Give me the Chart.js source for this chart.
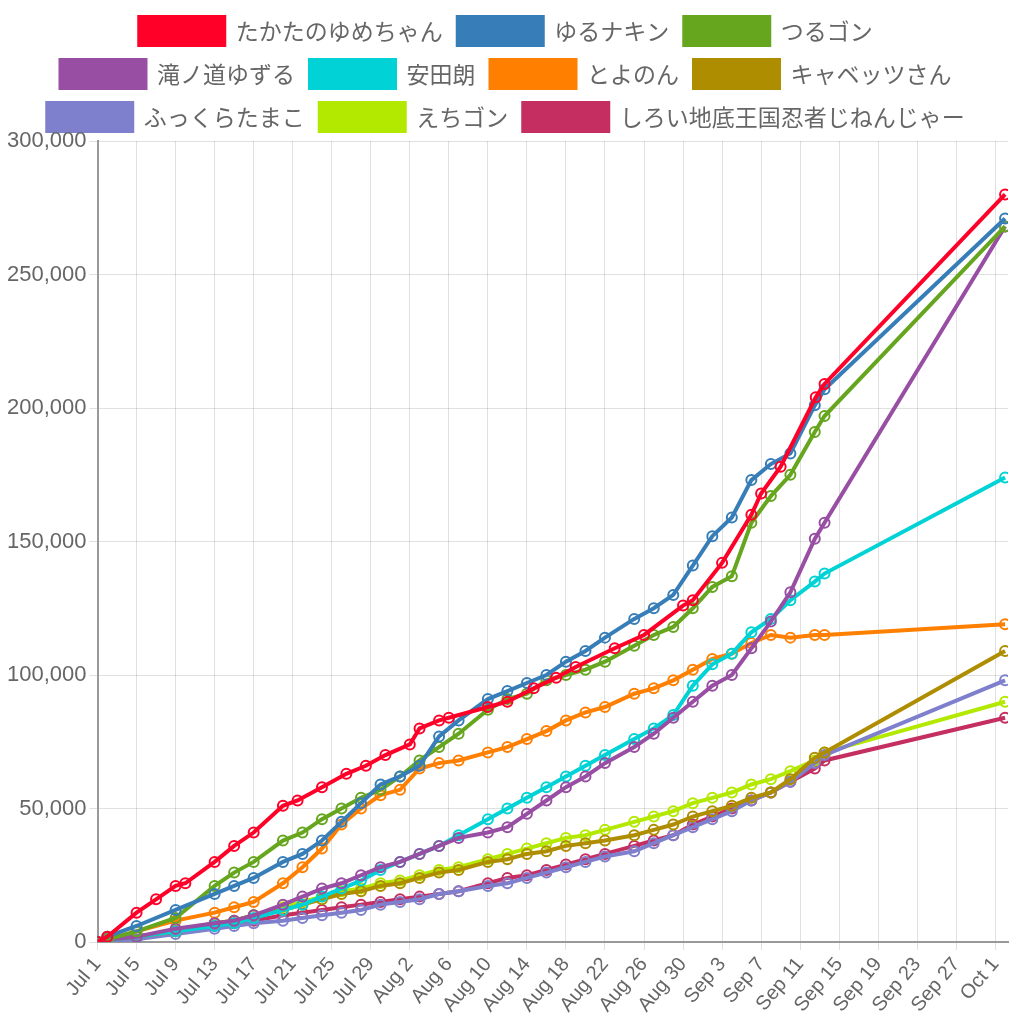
<!DOCTYPE html>
<html>
<head>
<meta charset="utf-8">
<script src="https://cdn.jsdelivr.net/npm/chart.js@4/dist/chart.umd.min.js"></script>
<style>
  html, body { margin: 0; padding: 0; background: #fff; }
  #wrap { width: 1024px; height: 1024px; }
</style>
</head>
<body>
<div id="wrap"><canvas id="c" width="1024" height="1024"></canvas></div>
<script>
// 日数 (Jul 1 = 0)
const redDays  = [0, 1, 4, 6, 8, 9, 12, 14, 16, 19, 20.5, 23, 25.5, 27.5, 29.5, 32, 33, 35, 36, 40, 42, 44.7, 47, 49, 53, 56, 60, 61, 64, 67, 68, 70, 73.6, 74.5, 93];
const redVals  = [0, 2, 11, 16, 21, 22, 30, 36, 41, 51, 53, 58, 63, 66, 70, 74, 80, 83, 84, 88, 90, 95, 99, 103, 110, 115, 126, 128, 142, 160, 168, 178, 204, 209, 280];

const commonDays = [0, 1, 4, 8, 12, 14, 16, 19, 21, 23, 25, 27, 29, 31, 33, 35, 37, 40, 42, 44, 46, 48, 50, 52, 55, 57, 59, 61, 63, 65, 67, 69, 71, 73.5, 74.5, 93];

const blueVals   = [0, 2, 6, 12, 18, 21, 24, 30, 33, 38, 45, 52, 59, 62, 66, 77, 83, 91, 94, 97, 100, 105, 109, 114, 121, 125, 130, 141, 152, 159, 173, 179, 183, 201, 207, 271];
const greenVals  = [0, 1, 4, 9, 21, 26, 30, 38, 41, 46, 50, 54, 57, 62, 68, 73, 78, 87, 91, 93, 98, 100, 102, 105, 111, 115, 118, 125, 133, 137, 157, 167, 175, 191, 197, 268];
const purpleVals = [0, 1, 2, 5, 7, 8, 10, 14, 17, 20, 22, 25, 28, 30, 33, 36, 39, 41, 43, 48, 53, 58, 62, 67, 73, 78, 84, 90, 96, 100, 110, 120, 131, 151, 157, 268];
const cyanVals   = [0, 1, 2, 4, 6, 7, 9, 12, 14, 17, 20, 23, 27, 30, 33, 36, 40, 46, 50, 54, 58, 62, 66, 70, 76, 80, 85, 96, 104, 108, 116, 121, 128, 135, 138, 174];
const orangeVals = [0, 1, 4, 8, 11, 13, 15, 22, 28, 35, 44, 50, 55, 57, 65, 67, 68, 71, 73, 76, 79, 83, 86, 88, 93, 95, 98, 102, 106, 108, 112, 115, 114, 115, 115, 119];
const oliveVals  = [0, 1, 2, 4, 7, 8, 10, 12, 14, 16, 18, 19, 21, 22, 24, 26, 27, 30, 31, 33, 34, 36, 37, 38, 40, 42, 44, 47, 49, 51, 54, 56, 61, 69, 71, 109];
const lavVals    = [0, 0.5, 1, 3, 5, 6, 7, 8, 9, 10, 11, 12, 14, 15, 16, 18, 19, 21, 22, 24, 26, 28, 30, 32, 34, 37, 40, 43, 46, 49, 53, 56, 60, 67, 70, 98];
const limeVals   = [0, 1, 2, 4, 7, 8, 10, 13, 15, 17, 19, 20, 22, 23, 25, 27, 28, 31, 33, 35, 37, 39, 40, 42, 45, 47, 49, 52, 54, 56, 59, 61, 64, 68, 71, 90];
const crimVals   = [0, 1, 2, 4, 6, 7, 8, 10, 11, 12, 13, 14, 15, 16, 17, 18, 19, 22, 24, 25, 27, 29, 31, 33, 36, 38, 40, 44, 47, 50, 53, 56, 60, 65, 68, 84];

const names = ['たかたのゆめちゃん', 'ゆるナキン', 'つるゴン', '滝ノ道ゆずる', '安田朗', 'とよのん', 'キャベッツさん', 'ふっくらたまこ', 'えちゴン', 'しろい地底王国忍者じねんじゃー'];
const colors = ['#ff0029', '#377eb8', '#66a61e', '#984ea3', '#00d2d5', '#ff7f00', '#af8d00', '#7f80cd', '#b3e900', '#c42e60'];
const seriesVals = [redVals, blueVals, greenVals, purpleVals, cyanVals, orangeVals, oliveVals, lavVals, limeVals, crimVals];

const months = [['Jul', 31], ['Aug', 31], ['Sep', 30], ['Oct', 31]];
function dayLabel(d) {
    let rest = d;
    for (const [m, len] of months) {
        if (rest < len) return m + ' ' + (rest + 1);
        rest -= len;
    }
    return '';
}

const datasets = seriesVals.map((vals, i) => {
    const days = i === 0 ? redDays : commonDays;
    return {
        label: names[i],
        data: vals.map((v, j) => ({ x: days[j], y: v * 1000 })),
        borderColor: colors[i],
        backgroundColor: colors[i],
        pointBackgroundColor: 'rgba(0,0,0,0)',
        pointBorderColor: colors[i],
        borderWidth: 4,
        pointRadius: 5,
        pointBorderWidth: 2,
        fill: false,
        tension: 0
    };
});

new Chart(document.getElementById('c').getContext('2d'), {
    type: 'line',
    data: { datasets },
    options: {
        responsive: false,
        animation: false,
        layout: { padding: { left: 4, right: 16, top: 2, bottom: 4 } },
        plugins: {
            legend: {
                display: true,
                position: 'top',
                labels: {
                    boxWidth: 85,
                    boxHeight: 28,
                    padding: 15,
                    color: '#666',
                    font: { size: 23, family: '"Noto Sans CJK JP", sans-serif' }
                }
            },
            tooltip: { enabled: false }
        },
        scales: {
            x: {
                type: 'linear',
                min: 0,
                max: 93.3,
                afterBuildTicks: axis => {
                    const t = [];
                    for (let d = 0; d <= 92; d += 4) t.push({ value: d });
                    axis.ticks = t;
                },
                ticks: {
                    autoSkip: false,
                    maxRotation: 50,
                    minRotation: 50,
                    color: '#666',
                    font: { size: 20, family: 'Liberation Sans, sans-serif' },
                    callback: v => dayLabel(v)
                },
                grid: { color: 'rgba(0,0,0,0.12)' },
                border: { color: '#999', width: 2 }
            },
            y: {
                min: 0,
                max: 300000,
                ticks: {
                    stepSize: 50000,
                    color: '#666',
                    font: { size: 22, family: 'Liberation Sans, sans-serif' },
                    callback: v => v.toLocaleString('en-US')
                },
                grid: { color: 'rgba(0,0,0,0.12)' },
                border: { color: '#999', width: 2 }
            }
        }
    }
});
</script>
</body>
</html>
